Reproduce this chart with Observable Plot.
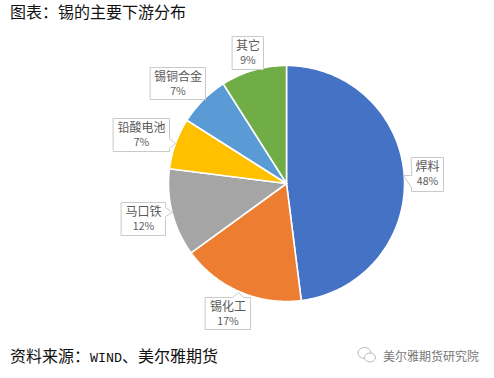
<!DOCTYPE html>
<html><head><meta charset="utf-8">
<script src="https://cdn.jsdelivr.net/npm/d3@7"></script>
<script src="https://cdn.jsdelivr.net/npm/@observablehq/plot@0.6"></script>
<style>
html,body{margin:0;padding:0;background:#fff;width:494px;height:378px;overflow:hidden}
body{font-family:"Noto Sans CJK SC",sans-serif;color:#111}
.t{height:30px;box-sizing:border-box;padding:0 0 0 10px;font-size:16px;line-height:23px;}
.c{position:relative;height:43px;box-sizing:border-box;padding:10px 0 0 10px;font-size:16px;line-height:20px;white-space:nowrap}
.c .m{font-family:"Liberation Mono";font-size:13.33px}
.w{position:absolute;left:383px;top:13px;font-size:12px;line-height:16px;color:#777}
.i{position:absolute;left:357px;top:11px}
svg{display:block}
</style></head><body>
<div class="t">图表：锡的主要下游分布</div>
<div id="chart"></div>
<div class="c">资料来源：<span class="m">WIND</span>、美尔雅期货
<svg class="i" width="20" height="18" viewBox="0 0 20 18" fill="none" stroke="#bbb"><ellipse cx="7.5" cy="7" rx="6.5" ry="5.5"/><ellipse cx="13" cy="11.5" rx="5.5" ry="4.5" fill="#fff"/></svg>
<span class="w">美尔雅期货研究院</span></div>
<script>
const categories = ["焊料","锡化工","马口铁","铅酸电池","锡铜合金","其它"];
const shares = [48,17,12,7,7,9];
const colors = ["#4472C4","#ED7D31","#A5A5A5","#FFC000","#5B9BD5","#70AD47"];

// label callout layout, in page pixels: box left, top, width, height; pointer inserted after a box corner
const boxes = [
 {l:411,t:157,w:32,h:34,after:3,ptr:[[411,187],[403,175],[411,175]]},
 {l:205,t:297,w:45,h:32,after:0,ptr:[[232,297],[238,292],[243,297]]},
 {l:121,t:202,w:44,h:33,after:1,ptr:[[165,207],[172,212],[165,216]]},
 {l:113,t:118,w:56,h:33,after:1,ptr:[[169,138],[175,143],[169,148]]},
 {l:150,t:67,w:55,h:32,after:-1,ptr:[]},
 {l:232,t:36,w:31,h:33,after:-1,ptr:[]}
];
const cx=286, cy=183, r=118, chartTop=30, H=305;

const arcs = d3.pie().sort(null)(shares);
const slices = arcs.flatMap((a,i)=>{
  const n = Math.max(2,Math.ceil((a.endAngle-a.startAngle)*r/2));
  const pts=[{k:categories[i],x:cx,y:cy}];
  for(let j=0;j<=n;j++){
    const t=a.startAngle+(a.endAngle-a.startAngle)*j/n;
    pts.push({k:categories[i],x:cx+r*Math.sin(t),y:cy-r*Math.cos(t)});
  }
  return pts;
});
const callouts = boxes.flatMap((b,i)=>{
  const R=b.l+b.w, B=b.t+b.h;
  const corners=[[b.l,b.t],[R,b.t],[R,B],[b.l,B]];
  const p=corners.flatMap((c,ci)=>ci===b.after?[c,...b.ptr]:[c]);
  return p.map(q=>({k:categories[i],x:q[0],y:q[1]}));
});
const labels = boxes.map((b,i)=>({name:categories[i],pct:shares[i]+"%",x:b.l+b.w/2,y1:b.t+10,y2:b.t+24}));

const plot = Plot.plot({
  width:494,height:H,margin:0,
  x:{domain:[0,494],range:[0,494],axis:null},
  y:{domain:[chartTop,chartTop+H],range:[0,H],axis:null},
  color:{domain:categories,range:colors},
  marks:[
    Plot.line(slices,{x:"x",y:"y",z:"k",fill:"k",stroke:"#fff",strokeWidth:1.6,curve:"linear-closed"}),
    Plot.line(callouts,{x:"x",y:"y",z:"k",fill:"#fff",stroke:"#c9c9c9",strokeWidth:1,curve:"linear-closed"}),
    Plot.text(labels,{x:"x",y:"y1",text:"name",fill:"#595959",fontSize:12,fontFamily:"Noto Sans CJK SC"}),
    Plot.text(labels,{x:"x",y:"y2",text:"pct",fill:"#595959",fontSize:10.5,fontFamily:"Noto Sans CJK SC"})
  ]
});
document.getElementById("chart").appendChild(plot);
</script>
</body></html>
